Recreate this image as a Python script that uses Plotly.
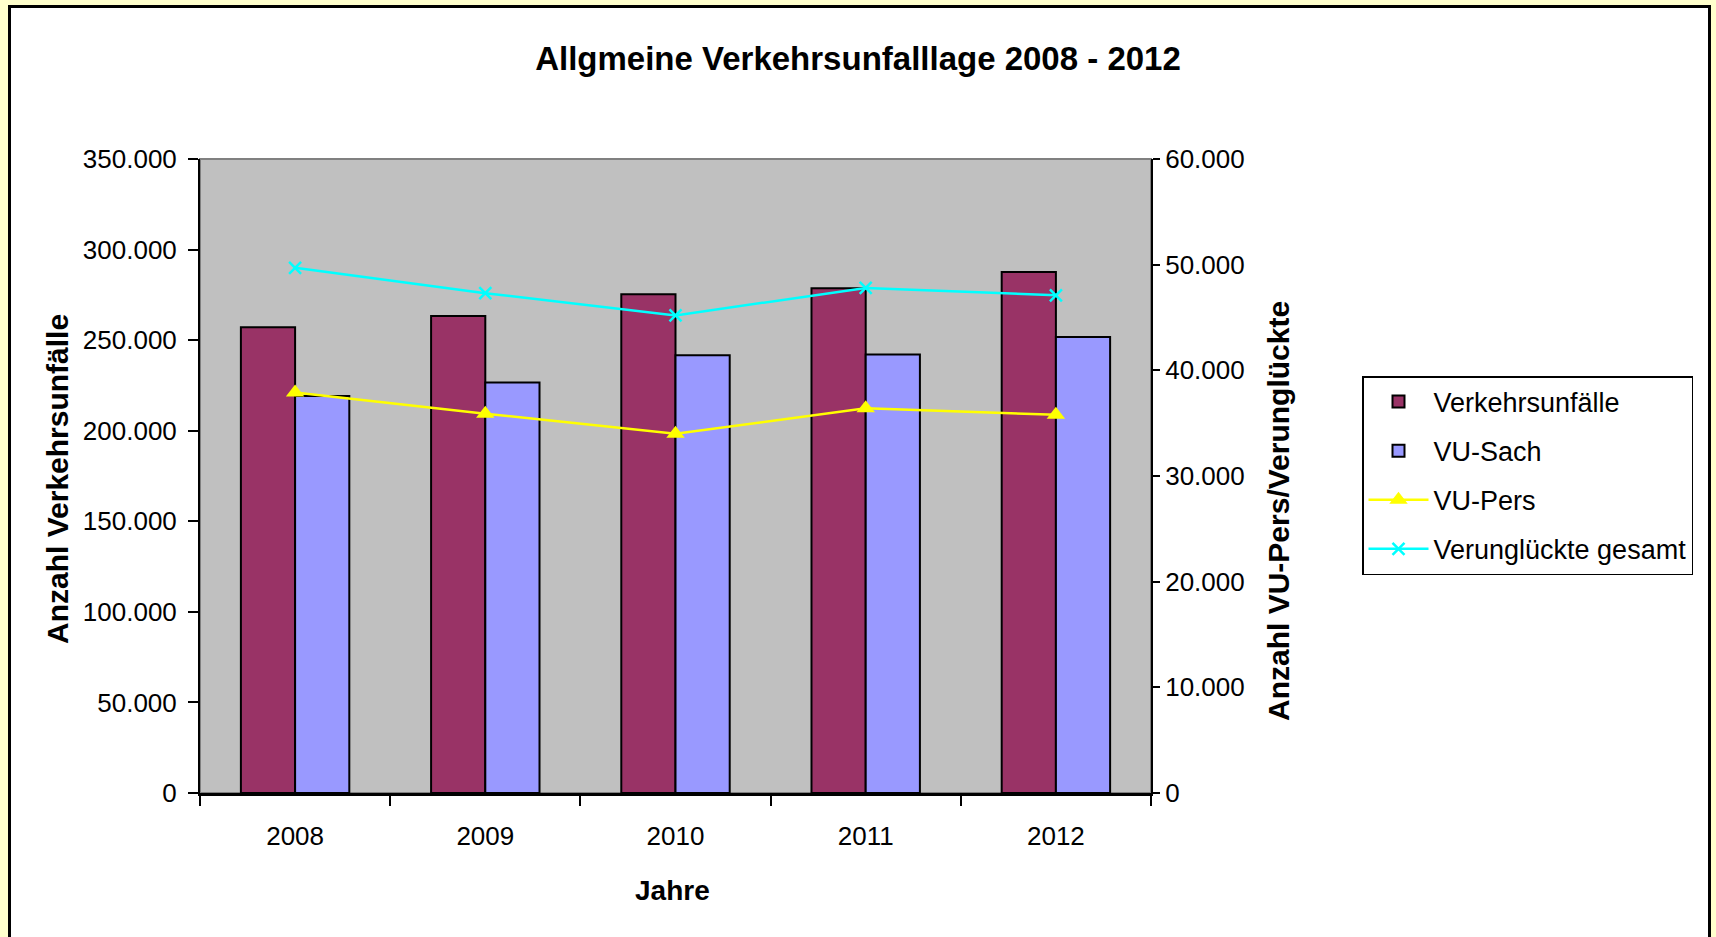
import plotly.graph_objects as go

# data
years = ["2008", "2009", "2010", "2011", "2012"]
verkehrsunfaelle = [257100, 263300, 275300, 278700, 287600]
vu_sach = [219200, 226600, 241700, 242100, 251800]
vu_pers = [37900, 35900, 34000, 36400, 35800]
verunglueckte = [49700, 47300, 45200, 47800, 47100]

FONT = "Liberation Sans, Arial, sans-serif"

# plot area in pixels (page 1716x937)
L, R, T, B = 200, 1151, 159, 793
W, H = R - L, B - T


def px(x):
    return (x - L) / W


def py(y):
    return (B - y) / H


fig = go.Figure()

fig.add_trace(go.Bar(
    x=years, y=verkehrsunfaelle, name="Verkehrsunfälle",
    marker=dict(color="#993366", line=dict(color="black", width=2)),
    legendgroup="a",
))
fig.add_trace(go.Bar(
    x=years, y=vu_sach, name="VU-Sach",
    marker=dict(color="#9999FF", line=dict(color="black", width=2)),
    legendgroup="b",
))
fig.add_trace(go.Scatter(
    x=years, y=vu_pers, name="VU-Pers", yaxis="y2", mode="lines+markers",
    line=dict(color="#FFFF00", width=2.5),
    marker=dict(symbol="triangle-up", size=16, color="#FFFF00"),
    legendgroup="c",
))
fig.add_trace(go.Scatter(
    x=years, y=verunglueckte, name="Verunglückte gesamt", yaxis="y2",
    mode="lines+markers",
    line=dict(color="#00FFFF", width=2.5),
    marker=dict(symbol="x-thin", size=12, color="#00FFFF",
                line=dict(color="#00FFFF", width=2.5)),
    legendgroup="d",
))

fig.update_layout(
    width=1716, height=937,
    margin=dict(l=L, r=1716 - R, t=T, b=937 - B),
    paper_bgcolor="#FFFFCC",
    plot_bgcolor="rgba(0,0,0,0)",
    separators=",.",
    font=dict(family=FONT, size=26, color="black"),
    barmode="group", bargap=0.43, bargroupgap=0,
    title=dict(text="<b>Allgmeine Verkehrsunfalllage 2008 - 2012</b>",
               x=0.5, xref="container", xanchor="center",
               y=1 - 58 / 937, yref="container", yanchor="middle",
               font=dict(size=33)),
    showlegend=True,
    legend=dict(x=px(1362), y=py(376), xanchor="left", yanchor="top",
                bgcolor="white", bordercolor="black", borderwidth=1.5,
                font=dict(size=27), tracegroupgap=11, itemwidth=60,
                traceorder="grouped"),
    xaxis=dict(showline=True, linecolor="black", linewidth=3,
               ticks="outside", ticklen=10, tickwidth=1.5, tickcolor="black",
               tickson="boundaries", ticklabelstandoff=18,
               showgrid=False, zeroline=False),
    yaxis=dict(range=[0, 350000], dtick=50000, tickformat=",d",
               showline=True, linecolor="black", linewidth=2,
               ticks="outside", ticklen=10, tickwidth=2, tickcolor="black",
               ticklabelstandoff=6, showgrid=False, zeroline=False),
    yaxis2=dict(range=[0, 60000], dtick=10000, tickformat=",d",
                overlaying="y", side="right",
                showline=True, linecolor="black", linewidth=2,
                ticks="outside", ticklen=7, tickwidth=2, tickcolor="black",
                ticklabelstandoff=0, showgrid=False, zeroline=False),
)

# white chart sheet with black frame, grey plot area
fig.add_shape(type="rect", xref="paper", yref="paper", layer="below",
              x0=px(9.5), x1=px(1709.5), y0=py(950), y1=py(6.5),
              fillcolor="white", line=dict(color="black", width=3))
fig.add_shape(type="rect", xref="paper", yref="paper", layer="below",
              x0=0, x1=1, y0=0, y1=1,
              fillcolor="#C0C0C0", line=dict(color="#808080", width=2))

# axis titles
fig.add_annotation(text="<b>Anzahl Verkehrsunfälle</b>", textangle=-90,
                   x=px(57), y=py(479), xref="paper", yref="paper",
                   xanchor="center", yanchor="middle",
                   showarrow=False, font=dict(size=30))
fig.add_annotation(text="<b>Anzahl VU-Pers/Verunglückte</b>", textangle=-90,
                   x=px(1278), y=py(511), xref="paper", yref="paper",
                   xanchor="center", yanchor="middle",
                   showarrow=False, font=dict(size=30))
fig.add_annotation(text="<b>Jahre</b>",
                   x=px(672), y=py(890), xref="paper", yref="paper",
                   xanchor="center", yanchor="middle",
                   showarrow=False, font=dict(size=28))

fig.write_html("out.html", config={"displayModeBar": False},
               post_script="document.body.style.margin='0';")
